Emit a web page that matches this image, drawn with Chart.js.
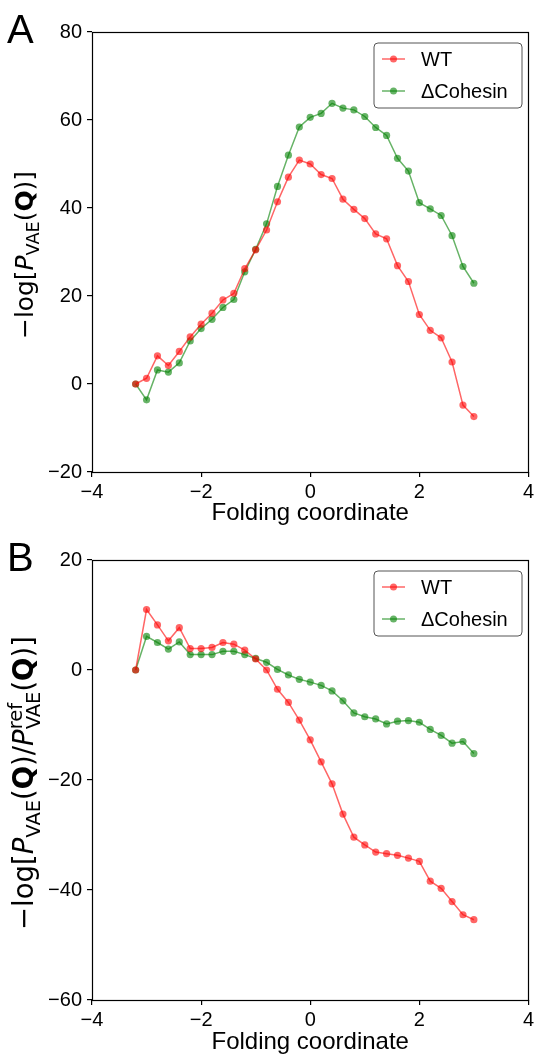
<!DOCTYPE html>
<html><head><meta charset="utf-8">
<script src="https://cdn.jsdelivr.net/npm/chart.js@4/dist/chart.umd.min.js"></script>
<style>
html,body{margin:0;padding:0;background:#fff;}
#wrap{position:relative;width:537px;height:1057px;overflow:hidden;}
canvas{position:absolute;left:0;display:block;}
#ca{top:0;}
#cb{top:528px;}
</style></head>
<body><div id="wrap"><canvas id="ca" width="537" height="528"></canvas><canvas id="cb" width="537" height="529"></canvas></div>
<script>
// ---- data ----
const foldingCoord = [-3.2,-3.0,-2.8,-2.6,-2.4,-2.2,-2.0,-1.8,-1.6,-1.4,-1.2,-1.0,-0.8,-0.6,-0.4,-0.2,0.0,0.2,0.4,0.6,0.8,1.0,1.2,1.4,1.6,1.8,2.0,2.2,2.4,2.6,2.8,3.0];
const seriesLabels = ['WT','\u0394Cohesin'];
const wtLogP = [0,1.3,6.4,4.2,7.4,10.7,13.6,16.1,19.1,20.6,26.2,30.5,35.0,41.4,47.0,50.9,50.0,47.6,46.7,42.0,39.7,37.6,34.1,33.0,26.9,23.3,15.8,12.2,10.5,5.0,-4.8,-7.4];
const cohLogP = [0,-3.6,3.2,2.7,4.8,9.8,12.6,14.7,17.4,19.2,25.5,30.6,36.4,44.9,52.0,58.4,60.6,61.5,63.8,62.7,62.3,60.8,58.3,56.5,51.3,48.4,41.2,39.8,38.3,33.7,26.7,22.9];
const wtLogRatio = [0,11.0,8.2,5.3,7.7,3.9,3.9,4.1,5.0,4.7,3.6,2.0,0.0,-3.5,-5.9,-9.1,-12.7,-16.7,-20.7,-26.2,-30.4,-31.8,-33.1,-33.4,-33.7,-34.2,-34.8,-38.4,-39.7,-42.1,-44.5,-45.4];
const cohLogRatio = [0,6.1,5.0,3.8,5.1,2.8,2.8,2.8,3.4,3.4,2.8,2.1,1.4,0.1,-0.9,-1.7,-2.2,-2.8,-3.8,-5.6,-7.8,-8.5,-8.9,-9.8,-9.3,-9.2,-9.5,-10.8,-11.9,-13.3,-13.0,-15.2];
const xTickValues = [-4,-2,0,2,4];
const yTicksA = [-20,0,20,40,60,80];
const yTicksB = [-60,-40,-20,0,20];
const xTitle = 'Folding coordinate';

// ---- styles ----
const RED = 'rgba(255,0,0,0.6)';
const GREEN = 'rgba(0,128,0,0.6)';
const SANS = '"Liberation Sans", Arial, sans-serif';
const MATH = '"DejaVu Sans", sans-serif';
const fmt = v => (v < 0 ? '\u2212' + Math.abs(v) : String(v));

function drawRich(ctx, parts, cx, cy, targetLen) {
  function font(p, scale) {
    return (p.it ? 'italic ' : '') + (p.b ? 'bold ' : '') + (p.s * scale).toFixed(2) + 'px ' + MATH;
  }
  const measure = (scale) => {
    let w = 0;
    for (const p of parts) {
      if (p.stack) {
        let m = 0;
        for (const q of p.stack) { ctx.font = font(q, scale); m = Math.max(m, ctx.measureText(q.t).width); }
        w += m;
      } else { ctx.font = font(p, scale); w += ctx.measureText(p.t).width; }
    }
    return w;
  };
  const base = measure(1);
  const scale = targetLen / base;
  const total = measure(scale);
  ctx.save();
  ctx.translate(cx, cy);
  ctx.rotate(-Math.PI / 2);
  ctx.fillStyle = '#000';
  ctx.textBaseline = 'alphabetic';
  ctx.textAlign = 'left';
  const S = 24 * scale;
  const by = 0.27 * S;
  let x = -total / 2;
  for (const p of parts) {
    if (p.stack) {
      let m = 0;
      for (const q of p.stack) {
        ctx.font = font(q, scale);
        ctx.fillText(q.t, x, by + (q.dy || 0) * S);
        m = Math.max(m, ctx.measureText(q.t).width);
      }
      x += m;
    } else {
      ctx.font = font(p, scale);
      ctx.fillText(p.t, x, by + (p.dy || 0) * S);
      x += ctx.measureText(p.t).width;
    }
  }
  ctx.restore();
}

const titleA = [
  {t:'\u2212log[', s:24}, {t:'P', s:24, it:true}, {t:'VAE', s:17, dy:0.25},
  {t:'(', s:24}, {t:'Q', s:24, b:true}, {t:')]', s:24}
];
const titleB = [
  {t:'\u2212log[', s:24}, {t:'P', s:24, it:true}, {t:'VAE', s:17, dy:0.25},
  {t:'(', s:24}, {t:'Q', s:24, b:true}, {t:')/', s:24}, {t:'P', s:24, it:true},
  {stack:[{t:'ref', s:17, dy:-0.42}, {t:'VAE', s:17, dy:0.25}]},
  {t:'(', s:24}, {t:'Q', s:24, b:true}, {t:')]', s:24}
];

function makeChart(id, wt, coh, yTicks, letter, title, titleLen, xAxisH) {
  const canvas = document.getElementById(id);
  const decor = {
    id: 'decor',
    afterDraw(chart) {
      const ctx = chart.ctx, a = chart.chartArea;
      ctx.save();
      ctx.strokeStyle = '#000'; ctx.lineWidth = 1.2;
      ctx.strokeRect(Math.round(a.left) + 0.5, Math.round(a.top) + 0.5, Math.round(a.right - a.left), Math.round(a.bottom - a.top));
      const lx = a.left + 282, ly = a.top + 11, lw = 148, lh = 65, r = 4;
      ctx.beginPath();
      ctx.moveTo(lx + r, ly); ctx.lineTo(lx + lw - r, ly); ctx.arcTo(lx + lw, ly, lx + lw, ly + r, r);
      ctx.lineTo(lx + lw, ly + lh - r); ctx.arcTo(lx + lw, ly + lh, lx + lw - r, ly + lh, r);
      ctx.lineTo(lx + r, ly + lh); ctx.arcTo(lx, ly + lh, lx, ly + lh - r, r);
      ctx.lineTo(lx, ly + r); ctx.arcTo(lx, ly, lx + r, ly, r); ctx.closePath();
      ctx.fillStyle = 'rgba(255,255,255,0.8)'; ctx.fill();
      ctx.strokeStyle = '#555'; ctx.lineWidth = 1; ctx.stroke();
      chart.data.datasets.forEach((ds, i) => {
        const yy = ly + 16 + i * 32;
        ctx.strokeStyle = ds.borderColor; ctx.lineWidth = 1.5;
        ctx.beginPath(); ctx.moveTo(lx + 8, yy); ctx.lineTo(lx + 31, yy); ctx.stroke();
        ctx.fillStyle = ds.pointBackgroundColor;
        ctx.beginPath(); ctx.arc(lx + 19.5, yy, 3.5, 0, Math.PI * 2); ctx.fill();
        ctx.fillStyle = '#000'; ctx.font = '20px ' + SANS; ctx.textBaseline = 'middle'; ctx.textAlign = 'left';
        ctx.fillText(ds.label, lx + 47, yy + 1);
      });
      ctx.fillStyle = '#000'; ctx.font = '40px ' + SANS; ctx.textBaseline = 'alphabetic'; ctx.textAlign = 'left';
      ctx.fillText(letter, 7, 43);
      ctx.restore();
      drawRich(ctx, title, 26, (a.top + a.bottom) / 2 + 3, titleLen);
    }
  };
  const mk = (vals) => foldingCoord.map((x, i) => ({x, y: vals[i]}));
  const ds = (label, vals, col) => ({
    label, data: mk(vals), borderColor: col, backgroundColor: col,
    pointBackgroundColor: col, pointBorderWidth: 0, pointRadius: 3.6,
    borderWidth: 1.5, tension: 0, fill: false
  });
  return new Chart(canvas, {
    type: 'line',
    data: { datasets: [ds(seriesLabels[0], wt, RED), ds(seriesLabels[1], coh, GREEN)] },
    options: {
      responsive: false, animation: false, devicePixelRatio: 1,
      layout: { padding: { top: 32, right: 7, left: 0, bottom: 0 } },
      plugins: { legend: { display: false }, tooltip: { enabled: false } },
      scales: {
        x: {
          type: 'linear', min: xTickValues[0], max: xTickValues[xTickValues.length - 1],
          afterBuildTicks: s => { s.ticks = xTickValues.map(v => ({value: v})); },
          ticks: { font: { size: 20, family: SANS }, color: '#000', padding: 3, callback: fmt, maxRotation: 0 },
          grid: { display: true, drawOnChartArea: false, drawTicks: true, tickLength: 5, color: '#000', lineWidth: 1.2 },
          border: { display: false },
          title: { display: true, text: xTitle, font: { size: 24, family: SANS }, color: '#000', padding: 0 },
          afterFit: s => { s.height = xAxisH; }
        },
        y: {
          type: 'linear', min: yTicks[0], max: yTicks[yTicks.length - 1],
          afterBuildTicks: s => { s.ticks = yTicks.map(v => ({value: v})); },
          ticks: { font: { size: 20, family: SANS }, color: '#000', padding: 5, callback: fmt },
          grid: { display: true, drawOnChartArea: false, drawTicks: true, tickLength: 5, color: '#000', lineWidth: 1.2 },
          border: { display: false },
          afterFit: s => { s.width = 92; }
        }
      }
    },
    plugins: [decor]
  });
}

makeChart('ca', wtLogP, cohLogP, yTicksA, 'A', titleA, 168, 56);
makeChart('cb', wtLogRatio, cohLogRatio, yTicksB, 'B', titleB, 294, 57);
</script>
</body></html>
